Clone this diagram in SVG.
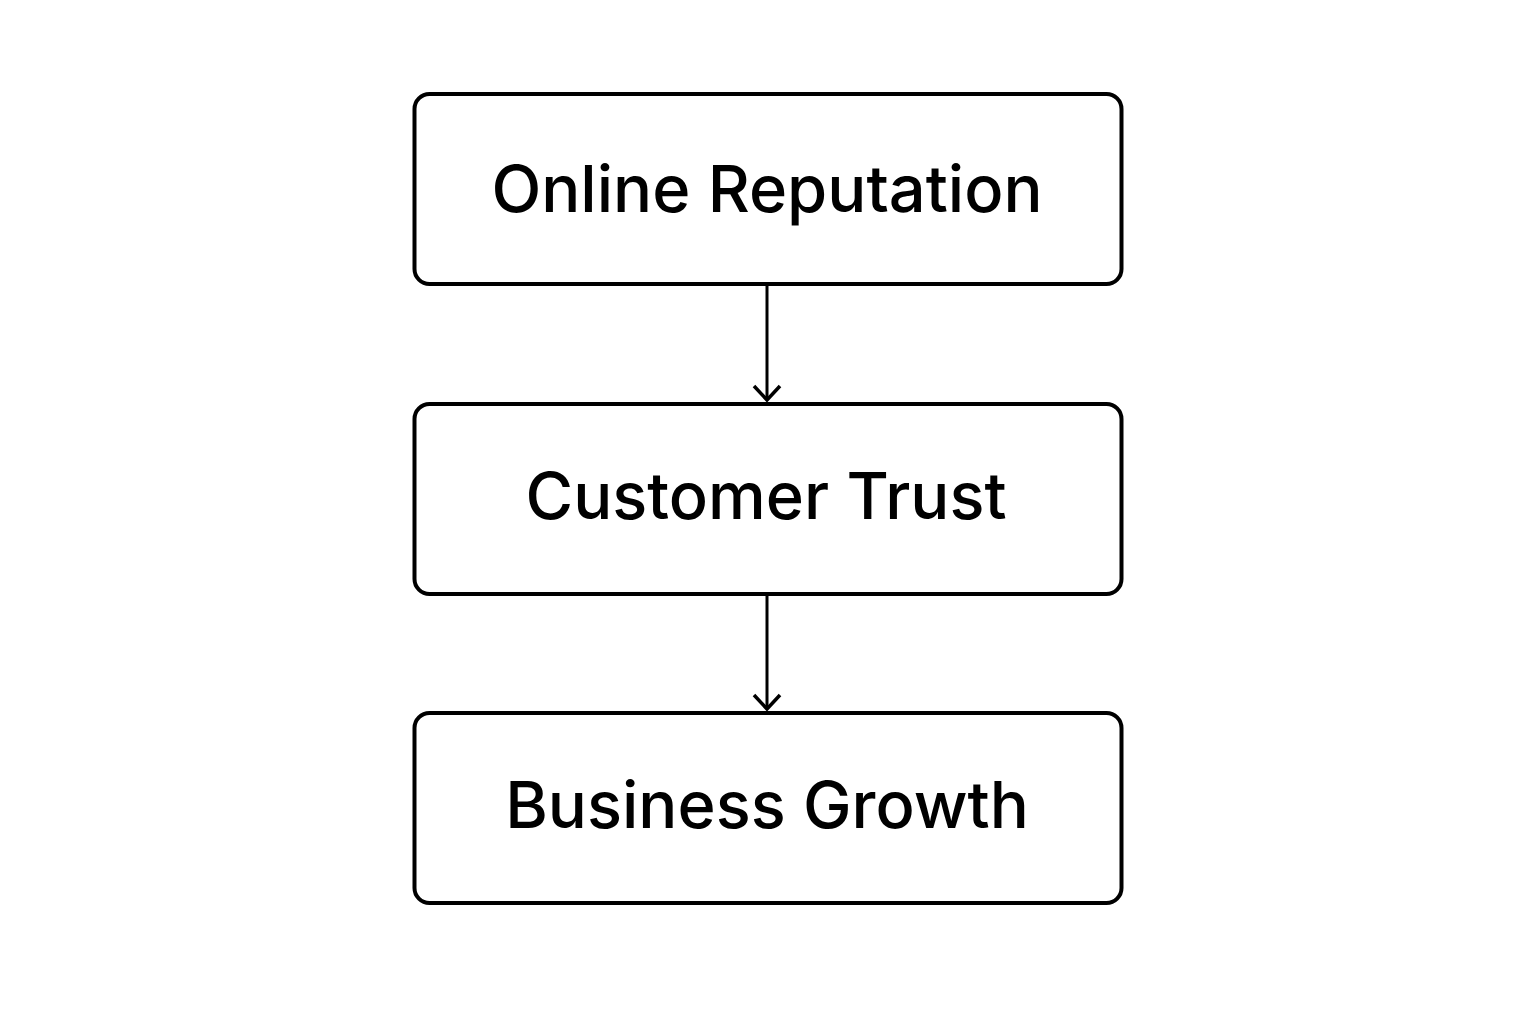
<svg xmlns="http://www.w3.org/2000/svg" width="1536" height="1024" viewBox="0 0 1536 1024">
<style>
.box{fill:#fff;stroke:#000;stroke-width:4}
.lbl{font-family:Inter,"Noto Sans",sans-serif;font-size:65px;font-weight:500;fill:#000;text-anchor:middle}
.conn{stroke:#000;stroke-width:3;fill:none}
</style>
<defs>
<marker id="arr" viewBox="0 0 30 30" refX="28" refY="15" markerWidth="30" markerHeight="30" markerUnits="userSpaceOnUse" orient="auto">
<path d="M14 2 L28 15 L14 28" fill="none" stroke="#000" stroke-width="3.5"/>
</marker>
</defs>
<rect width="1536" height="1024" fill="#fff"/>
<g id="node-online-reputation">
<rect class="box" x="414.5" y="94" width="707" height="190" rx="15"/>
<text class="lbl" x="767" y="212">Online Reputation</text>
</g>
<g id="node-customer-trust">
<rect class="box" x="414.5" y="404" width="707" height="190" rx="15"/>
<text class="lbl" x="766" y="519">Customer Trust</text>
</g>
<g id="node-business-growth">
<rect class="box" x="414.5" y="713" width="707" height="190" rx="15"/>
<text class="lbl" x="767" y="828">Business Growth</text>
</g>
<g id="connectors">
<line class="conn" x1="767" y1="286" x2="767" y2="400" marker-end="url(#arr)"/>
<line class="conn" x1="767" y1="596" x2="767" y2="709" marker-end="url(#arr)"/>
</g>
</svg>
